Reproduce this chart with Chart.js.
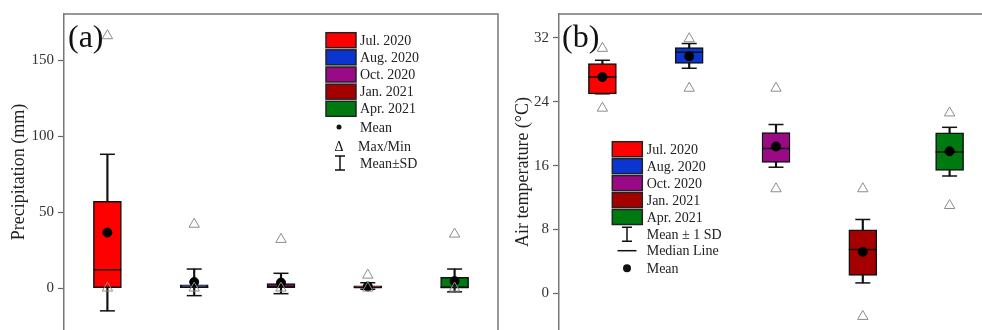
<!DOCTYPE html>
<html lang="en">
<head>
<meta charset="UTF-8">
<title>Precipitation and air temperature</title>
<script src="https://cdn.jsdelivr.net/npm/chart.js"></script>
<style>
    html, body { margin: 0; padding: 0; width: 982px; height: 330px; overflow: hidden; background: #fff; }
    .panel { position: absolute; top: 0; height: 330px; }
    #panelA { left: 0; width: 500px; }
    #panelB { left: 500px; width: 495px; }
    canvas { display: block; }
</style>
</head>
<body>
<div class="panel" id="panelA"><canvas id="precipChart" width="500" height="330"></canvas></div>
<div class="panel" id="panelB"><canvas id="tempChart" width="495" height="330"></canvas></div>
<script>
const months = ['Jul. 2020', 'Aug. 2020', 'Oct. 2020', 'Jan. 2021', 'Apr. 2021'];
const monthColors = ['#ff0000', '#0a35d0', '#9b0a86', '#a50000', '#007a10'];

// (a) precipitation (mm)
const precipQ1 = [0, 0, 0, 0, 0];
const precipQ3 = [57, 2.2, 3, 1.5, 7];
const precipMedian = [12, 0.6, 1, 0.3, 0.3];
const precipMean = [36.5, 4, 3.6, 1, 4.6];
const precipSdHigh = [88, 12.5, 9.7, 3.5, 12.5];
const precipSdLow = [-15, -5, -3.7, -0.8, -2.5];
const precipMax = [166, 42, 32, 8.5, 35.5];
const precipMin = [0, 0, 0, 0, 0];
const precipTicks = [0, 50, 100, 150];

// (b) air temperature (°C)
const tempQ1 = [25.0, 28.8, 16.4, 2.25, 15.4];
const tempQ3 = [28.8, 30.8, 20.15, 7.95, 20.1];
const tempMedian = [27.1, 30.2, 18.15, 5.5, 17.7];
const tempMean = [27.1, 29.7, 18.4, 5.2, 17.8];
const tempSdHigh = [29.2, 31.3, 21.15, 9.25, 20.8];
const tempSdLow = [25.0, 28.2, 15.8, 1.3, 14.7];
const tempMax = [30.7, 31.9, 25.7, 13.1, 22.6];
const tempMin = [23.2, 25.7, 13.1, -2.9, 11.0];
const tempTicks = [0, 8, 16, 24, 32];

const serif = 'Liberation Serif';
const ink = '#111';

function pointSet(data, style, radius, fill, stroke, width, order) {
    return {
        type: 'line', data: data, showLine: false, order: order,
        pointStyle: style, pointRadius: radius, pointHoverRadius: radius,
        pointBackgroundColor: fill, pointBorderColor: stroke, pointBorderWidth: width,
        pointHoverBorderWidth: width
    };
}

// frame on top and right of the plot area
const framePlugin = {
    id: 'frame',
    afterDraw(chart) {
        const a = chart.chartArea, ctx = chart.ctx;
        ctx.save();
        ctx.strokeStyle = '#777';
        ctx.lineWidth = 1.5;
        ctx.beginPath();
        ctx.moveTo(a.left, a.top);
        ctx.lineTo(a.right, a.top);
        ctx.lineTo(a.right, a.bottom);
        ctx.stroke();
        ctx.restore();
    }
};

// panel tag and legend drawn inside the plot
const legendPlugin = {
    id: 'boxLegend',
    afterDraw(chart, args, o) {
        const ctx = chart.ctx, a = chart.chartArea;
        ctx.save();
        ctx.fillStyle = '#111';
        ctx.font = '32px "' + serif + '"';
        ctx.textBaseline = 'alphabetic';
        ctx.fillText(o.tag, a.left + o.tagDx, a.top + 33);

        ctx.font = o.fontSize + 'px "' + serif + '"';
        ctx.textBaseline = 'middle';
        months.forEach((m, i) => {
            const cy = o.y0 + i * o.pitch;
            ctx.fillStyle = monthColors[i];
            ctx.fillRect(o.x, cy - o.h / 2, o.w, o.h);
            ctx.strokeStyle = '#222';
            ctx.lineWidth = 1.5;
            ctx.strokeRect(o.x, cy - o.h / 2, o.w, o.h);
            ctx.fillStyle = '#222';
            ctx.fillText(m, o.textX, cy + 1);
        });
        o.extras.forEach(e => {
            ctx.strokeStyle = '#111';
            ctx.fillStyle = '#111';
            ctx.lineWidth = 1.5;
            if (e.kind === 'dot') {
                ctx.beginPath();
                ctx.arc(e.ix, e.y, e.r, 0, Math.PI * 2);
                ctx.fill();
            } else if (e.kind === 'delta') {
                ctx.textAlign = 'center';
                ctx.fillText('Δ', e.ix, e.y + 1);
                ctx.textAlign = 'left';
            } else if (e.kind === 'ibar') {
                ctx.beginPath();
                ctx.moveTo(e.ix - 5, e.y - 7);
                ctx.lineTo(e.ix + 5, e.y - 7);
                ctx.moveTo(e.ix, e.y - 7);
                ctx.lineTo(e.ix, e.y + 7);
                ctx.moveTo(e.ix - 5, e.y + 7);
                ctx.lineTo(e.ix + 5, e.y + 7);
                ctx.stroke();
            } else if (e.kind === 'line') {
                ctx.beginPath();
                ctx.moveTo(e.ix - 9.5, e.y);
                ctx.lineTo(e.ix + 9.5, e.y);
                ctx.stroke();
            }
            ctx.fillStyle = '#222';
            ctx.fillText(e.text, e.tx, e.y + 1);
        });
        ctx.restore();
    }
};

function makeBoxChart(id, s, axis, legend) {
    new Chart(document.getElementById(id), {
        type: 'bar',
        data: {
            labels: months,
            datasets: [
                {
                    data: s.q1.map((v, i) => [v, s.q3[i]]),
                    backgroundColor: monthColors, borderColor: ink, borderWidth: 1.5,
                    borderSkipped: false, barThickness: 28, grouped: false, order: 3
                },
                {
                    data: s.lo.map((v, i) => [v, s.hi[i]]),
                    backgroundColor: ink, borderWidth: 0,
                    barThickness: 1.5, grouped: false, order: 4
                },
                pointSet(s.hi, 'line', 7.5, ink, ink, 1.5, 2),
                pointSet(s.lo, 'line', 7.5, ink, ink, 1.5, 2),
                pointSet(s.median, 'line', 14, ink, ink, 1.5, 2),
                pointSet(s.mean, 'circle', 4.5, '#000', '#000', 1, 1),
                pointSet(s.max, 'triangle', 6, 'rgba(255,255,255,0)', '#8c8c8c', 1, 0),
                pointSet(s.min, 'triangle', 6, 'rgba(255,255,255,0)', '#8c8c8c', 1, 0)
            ]
        },
        options: {
            responsive: false,
            animation: false,
            events: [],
            layout: { autoPadding: false, padding: { top: 14, right: 2, bottom: 0, left: 0 } },
            plugins: {
                legend: { display: false },
                tooltip: { enabled: false },
                boxLegend: legend
            },
            scales: {
                x: { type: 'category', display: false, offset: true },
                y: {
                    min: axis.min,
                    max: axis.max,
                    afterBuildTicks: sc => { sc.ticks = axis.ticks.map(v => ({ value: v })); },
                    afterFit: sc => {
                        sc.width = axis.width;
                        sc.paddingTop = 0;
                        sc.paddingBottom = 0;
                    },
                    ticks: { font: { family: serif, size: 15 }, color: '#333', padding: 4 },
                    grid: { drawOnChartArea: false, drawTicks: true, tickLength: 6, color: '#666', tickWidth: 1.2 },
                    border: { display: true, color: '#777', width: 1.5 },
                    title: {
                        display: true, text: axis.title, color: '#222',
                        font: { family: serif, size: 18 },
                        padding: { top: axis.titlePad, bottom: 0 }
                    }
                }
            }
        },
        plugins: [framePlugin, legendPlugin]
    });
}

makeBoxChart('precipChart', {
    q1: precipQ1, q3: precipQ3, median: precipMedian, mean: precipMean,
    hi: precipSdHigh, lo: precipSdLow, max: precipMax, min: precipMin
}, {
    min: -27.6, max: 180.3, ticks: precipTicks, width: 64, titlePad: 8,
    title: 'Precipitation (mm)'
}, {
    tag: '(a)', tagDx: 4, fontSize: 14,
    x: 326, w: 30, h: 15, y0: 40.2, pitch: 17.15, textX: 360,
    extras: [
        { kind: 'dot', ix: 339, y: 127, r: 2.5, text: 'Mean', tx: 360 },
        { kind: 'delta', ix: 339, y: 146, text: 'Max/Min', tx: 358 },
        { kind: 'ibar', ix: 340, y: 163, text: 'Mean±SD', tx: 360 }
    ]
});

makeBoxChart('tempChart', {
    q1: tempQ1, q3: tempQ3, median: tempMedian, mean: tempMean,
    hi: tempSdHigh, lo: tempSdLow, max: tempMax, min: tempMin
}, {
    min: -4.6, max: 35, ticks: tempTicks, width: 59, titlePad: 12,
    title: 'Air temperature (°C)'
}, {
    tag: '(b)', tagDx: 3, fontSize: 14,
    x: 112.3, w: 30, h: 15, y0: 149.2, pitch: 16.95, textX: 146.7,
    extras: [
        { kind: 'ibar', ix: 127, y: 234.3, text: 'Mean ± 1 SD', tx: 146.7 },
        { kind: 'line', ix: 127, y: 250.7, text: 'Median Line', tx: 146.7 },
        { kind: 'dot', ix: 127, y: 268.3, r: 4, text: 'Mean', tx: 146.7 }
    ]
});
</script>
</body>
</html>
